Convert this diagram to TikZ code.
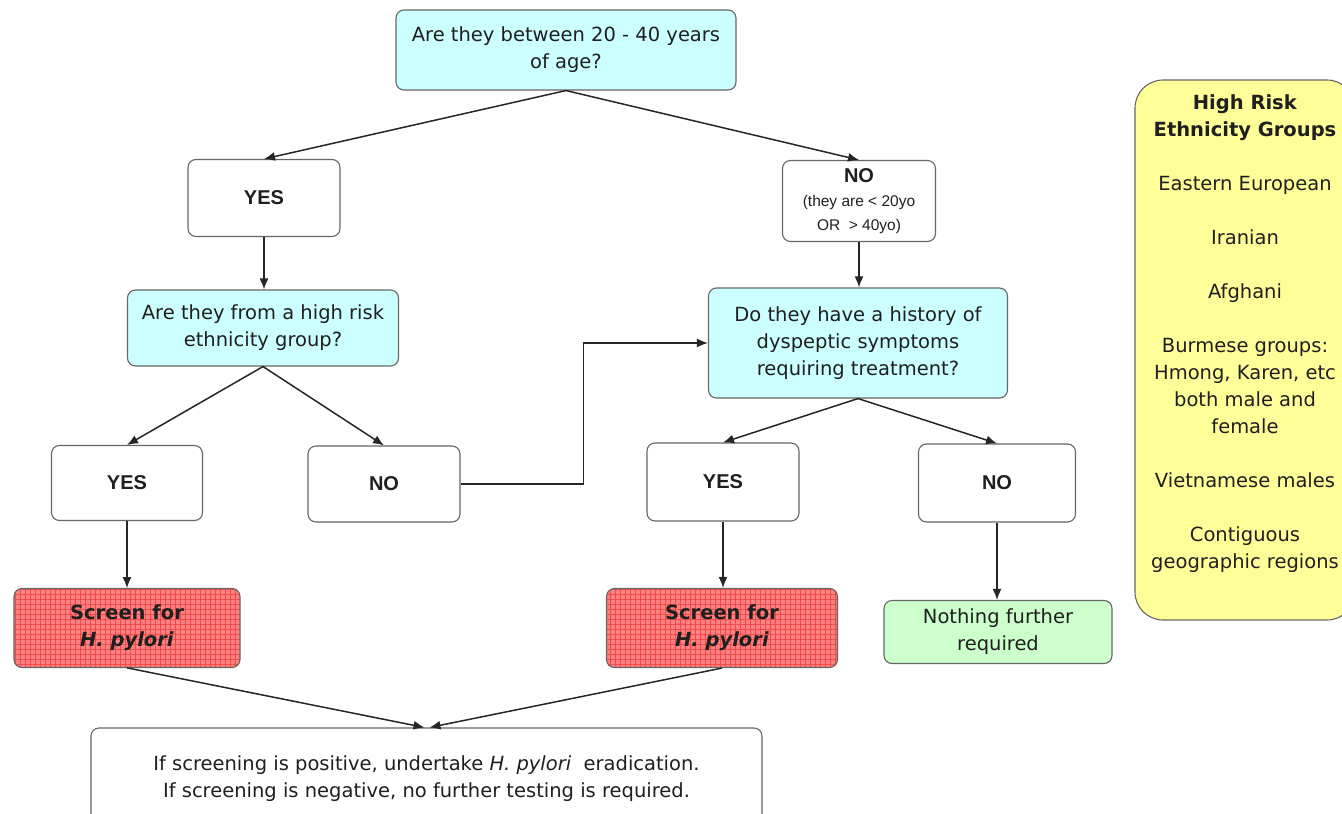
\documentclass[tikz,border=0pt]{standalone}
\usepackage{fontspec}
\setmainfont{DejaVu Sans}
\newfontfamily\arialfont{Liberation Sans}
\usetikzlibrary{arrows.meta,patterns.meta}

\definecolor{qcyan}{HTML}{CCFFFF}
\definecolor{riskyellow}{HTML}{FFFF99}
\definecolor{okgreen}{HTML}{CCFFCC}
\definecolor{screenred}{HTML}{FF8080}
\definecolor{gridred}{HTML}{EE4A4A}
\definecolor{boxline}{HTML}{666666}

\newcommand\agenote[1]{{\mdseries\fontsize{15.5}{24}\selectfont #1}}

\tikzset{
	box/.style = {draw=boxline, line width=1.1pt, rounded corners=8pt, align=center, inner sep=0pt, text=black!88},
	question/.style = {box, fill=qcyan, font=\fontsize{19.5}{27}\selectfont},
	answer/.style = {box, fill=white, font=\arialfont\bfseries\fontsize{20}{24}\selectfont, minimum width=152pt, minimum height=77pt},
	screen/.style = {box, preaction={fill=screenred}, pattern={Hatch[angle=0,distance=5pt,line width=0.7pt]}, pattern color=gridred, font=\bfseries\fontsize{19.5}{27}\selectfont, minimum width=228pt, minimum height=79pt},
	arr/.style = {-{Latex[length=11pt,width=9pt]}, line width=1.5pt, black!85},
}

\begin{document}
\begin{tikzpicture}[x=1pt, y=-1pt]
	\useasboundingbox (0,0) rectangle (1342,814);

	\node (age) at (566,50) [question, minimum width=340pt, minimum height=80pt] {Are they between 20 - 40 years\\of age?};

	\node (ageyes) at (264,198) [answer] {YES};
	\node (ageno) at (859,201) [answer, minimum width=153pt, minimum height=81pt] {NO\\\agenote{(they are < 20yo}\\\agenote{OR \ > 40yo)}};

	\node (ethnic) at (263,328) [question, minimum width=271pt, minimum height=76pt] {Are they from a high risk\\ethnicity group?};
	\node (dysp) at (858,343) [question, minimum width=299pt, minimum height=110pt] {Do they have a history of\\dyspeptic symptoms\\requiring treatment?};

	\node (ethyes) at (127,483) [answer, minimum width=151pt, minimum height=75pt] {YES};
	\node (ethno) at (384,484) [answer, minimum height=76pt] {NO};
	\node (dysyes) at (723,482) [answer, minimum height=78pt] {YES};
	\node (dysno) at (997,483) [answer, minimum width=157pt, minimum height=78pt] {NO};

	\node (screenA) at (127,628) [screen, minimum width=226pt] {Screen for\\\textit{H. pylori}};
	\node (screenB) at (722,628) [screen, minimum width=231pt] {Screen for\\\textit{H. pylori}};
	\node (nothing) at (998,632) [box, fill=okgreen, minimum width=228pt, minimum height=63pt, font=\fontsize{19.5}{27}\selectfont] {Nothing further\\required};

	\node (result) at (426.5,779) [box, fill=white, minimum width=671pt, minimum height=102pt, font=\fontsize{19.5}{27}\selectfont] {If screening is positive, undertake \textit{H. pylori} \ eradication.\\If screening is negative, no further testing is required.};

	\node (riskbox) at (1245,350) [box, fill=riskyellow, rounded corners=28pt, minimum width=220pt, minimum height=540pt] {};
	\node (risktext) at (1245,334) [align=center, text=black!88, font=\fontsize{19.5}{27}\selectfont] {\textbf{High Risk}\\\textbf{Ethnicity Groups}\\[27pt]Eastern European\\[27pt]Iranian\\[27pt]Afghani\\[27pt]Burmese groups:\\Hmong, Karen, etc\\both male and\\female\\[27pt]Vietnamese males\\[27pt]Contiguous\\geographic regions};

	\draw [arr] (age.south) -- (ageyes.north);
	\draw [arr] (age.south) -- (ageno.north);
	\draw [arr] (ageyes.south) -- (ageyes.south |- ethnic.north);
	\draw [arr] (ageno.south) -- (ageno.south |- dysp.north);

	\draw [arr] (ethnic.south) -- (ethyes.north);
	\draw [arr] (ethnic.south) -- (ethno.north);
	\draw [arr] (ethno.east) -- ++(123,0) |- (dysp.west);

	\draw [arr] (dysp.south) -- (dysyes.north);
	\draw [arr] (dysp.south) -- (dysno.north);

	\draw [arr] (ethyes) -- (screenA);
	\draw [arr] (dysyes.south) -- (dysyes.south |- screenB.north);
	\draw [arr] (dysno.south) -- (dysno.south |- nothing.north);

	\draw [arr] (screenA.south) -- ([xshift=-2pt]result.north);
	\draw [arr] (screenB.south) -- ([xshift=3pt]result.north);
\end{tikzpicture}
\end{document}
